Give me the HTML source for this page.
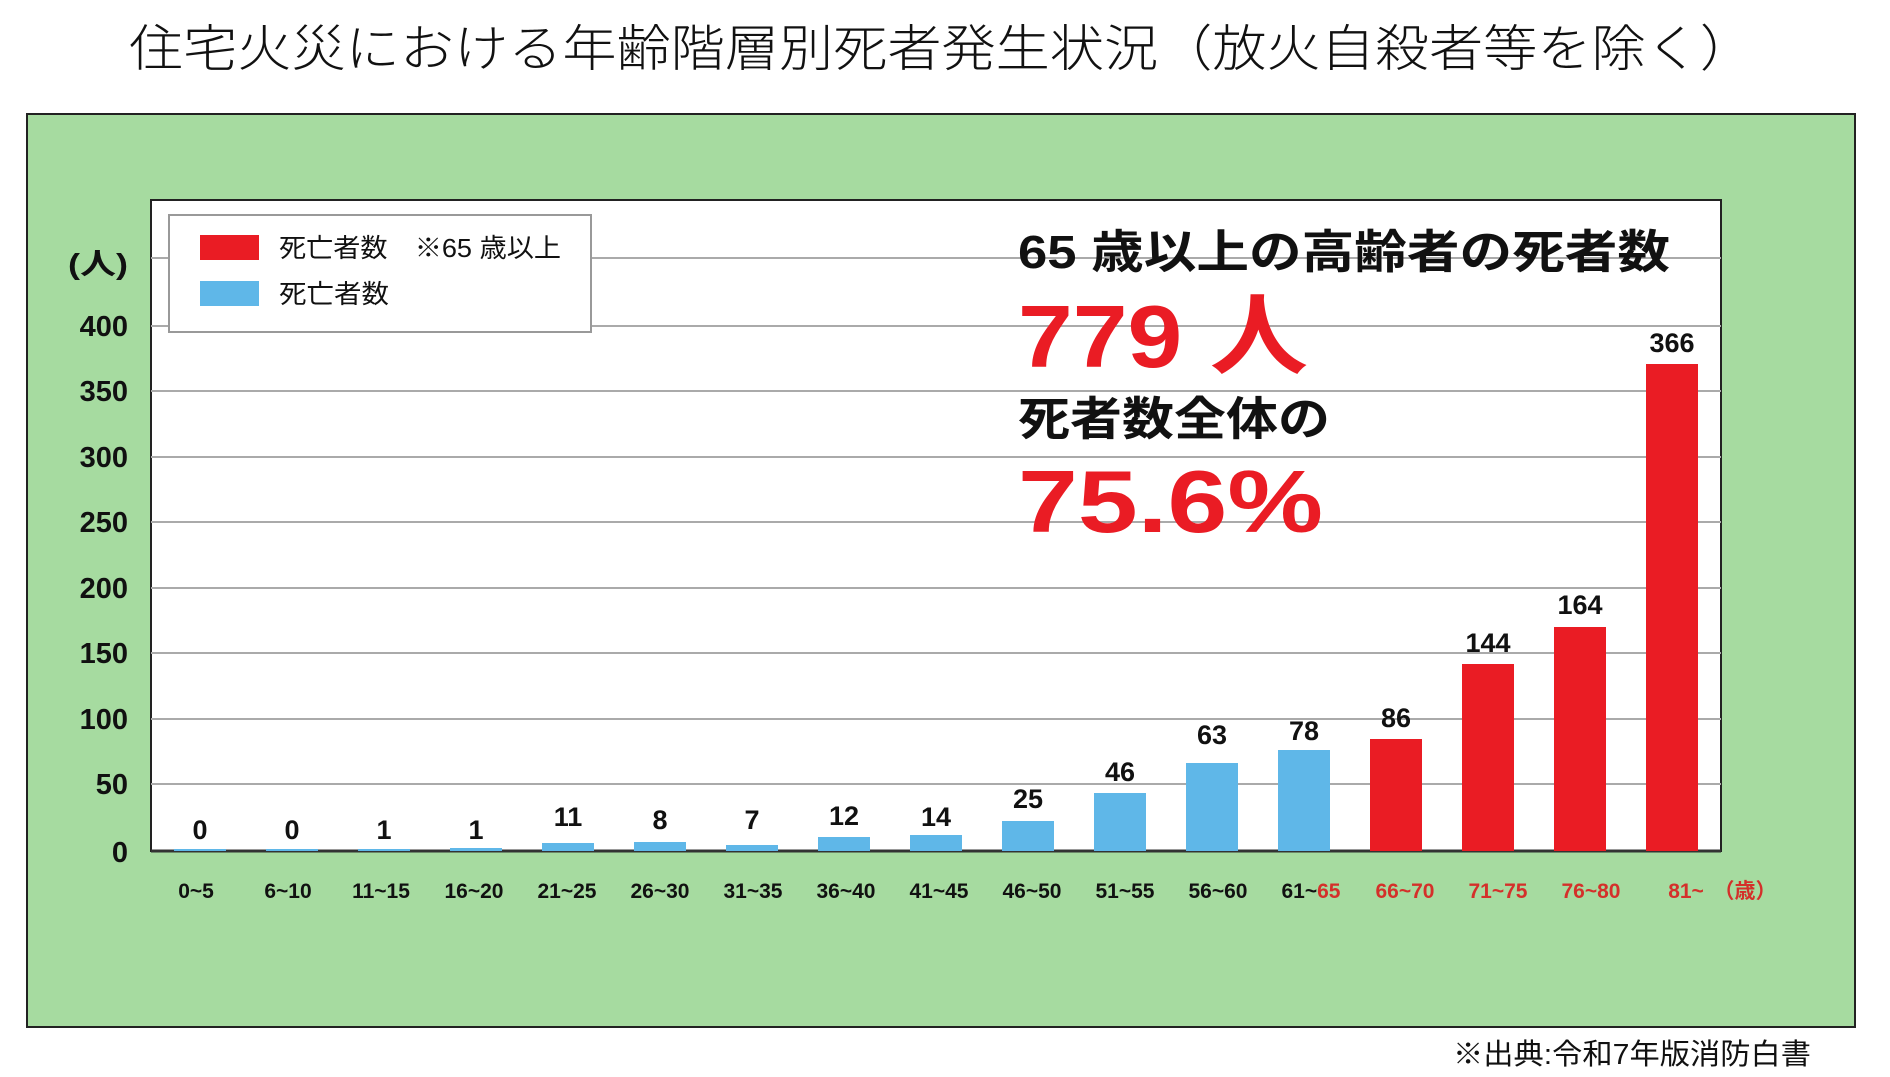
<!DOCTYPE html>
<html><head><meta charset="utf-8"><style>
html,body{margin:0;padding:0;background:#fff;}
svg{display:block;}
</style></head><body>
<svg width="1890" height="1077" viewBox="0 0 1890 1077" xmlns="http://www.w3.org/2000/svg">
<text x="129" y="66" font-family="'Liberation Sans','Noto Sans CJK JP',sans-serif" font-size="50" font-weight="300" fill="#111" textLength="1625" lengthAdjust="spacingAndGlyphs">住宅火災における年齢階層別死者発生状況（放火自殺者等を除く）</text>
<rect x="27" y="114" width="1828" height="913" fill="#a6dba0" stroke="#222" stroke-width="2"/>
<rect x="151" y="200" width="1570" height="651" fill="#fff" stroke="#222" stroke-width="2"/>
<g stroke="#aaa" stroke-width="2">
<line x1="151" y1="258" x2="1721" y2="258"/>
<line x1="151" y1="326" x2="1721" y2="326"/>
<line x1="151" y1="391" x2="1721" y2="391"/>
<line x1="151" y1="457" x2="1721" y2="457"/>
<line x1="151" y1="522" x2="1721" y2="522"/>
<line x1="151" y1="588" x2="1721" y2="588"/>
<line x1="151" y1="653" x2="1721" y2="653"/>
<line x1="151" y1="719" x2="1721" y2="719"/>
<line x1="151" y1="784" x2="1721" y2="784"/>
</g>
<line x1="151" y1="851" x2="1721" y2="851" stroke="#333" stroke-width="3"/>
<g font-family="'Liberation Sans','Noto Sans CJK JP',sans-serif" font-weight="bold" font-size="29" fill="#111" text-anchor="end">
<text x="128" y="274" textLength="60" lengthAdjust="spacingAndGlyphs">(人)</text>
<text x="128" y="336">400</text>
<text x="128" y="401">350</text>
<text x="128" y="467">300</text>
<text x="128" y="532">250</text>
<text x="128" y="598">200</text>
<text x="128" y="663">150</text>
<text x="128" y="729">100</text>
<text x="128" y="794">50</text>
<text x="128" y="862">0</text>
</g>
<rect x="169" y="215" width="422" height="117" fill="#fff" stroke="#999" stroke-width="2"/>
<rect x="200" y="235" width="59" height="25" fill="#ea1c24"/>
<rect x="200" y="281" width="59" height="25" fill="#5fb7e8"/>
<g font-family="'Liberation Sans','Noto Sans CJK JP',sans-serif" font-size="26" fill="#111">
<text x="279" y="257" textLength="282" lengthAdjust="spacingAndGlyphs">死亡者数　※65 歳以上</text>
<text x="279" y="303" textLength="110" lengthAdjust="spacingAndGlyphs">死亡者数</text>
</g>
<g font-family="'Liberation Sans','Noto Sans CJK JP',sans-serif" font-weight="bold">
<text x="1018" y="268" font-size="46" fill="#111" textLength="652" lengthAdjust="spacingAndGlyphs">65 歳以上の高齢者の死者数</text>
<text x="1018" y="367" font-size="88" fill="#ea1c24" textLength="290" lengthAdjust="spacingAndGlyphs">779 人</text>
<text x="1018" y="435" font-size="46" fill="#111" textLength="312" lengthAdjust="spacingAndGlyphs">死者数全体の</text>
<text x="1018" y="532" font-size="88" fill="#ea1c24" textLength="305" lengthAdjust="spacingAndGlyphs">75.6%</text>
</g>
<g>
<rect x="174" y="849" width="52" height="2" fill="#5fb7e8"/>
<rect x="266" y="849" width="52" height="2" fill="#5fb7e8"/>
<rect x="358" y="849" width="52" height="2" fill="#5fb7e8"/>
<rect x="450" y="848" width="52" height="3" fill="#5fb7e8"/>
<rect x="542" y="843" width="52" height="8" fill="#5fb7e8"/>
<rect x="634" y="842" width="52" height="9" fill="#5fb7e8"/>
<rect x="726" y="845" width="52" height="6" fill="#5fb7e8"/>
<rect x="818" y="837" width="52" height="14" fill="#5fb7e8"/>
<rect x="910" y="835" width="52" height="16" fill="#5fb7e8"/>
<rect x="1002" y="821" width="52" height="30" fill="#5fb7e8"/>
<rect x="1094" y="793" width="52" height="58" fill="#5fb7e8"/>
<rect x="1186" y="763" width="52" height="88" fill="#5fb7e8"/>
<rect x="1278" y="750" width="52" height="101" fill="#5fb7e8"/>
<rect x="1370" y="739" width="52" height="112" fill="#ea1c24"/>
<rect x="1462" y="664" width="52" height="187" fill="#ea1c24"/>
<rect x="1554" y="627" width="52" height="224" fill="#ea1c24"/>
<rect x="1646" y="364" width="52" height="487" fill="#ea1c24"/>
</g>
<g font-family="'Liberation Sans',sans-serif" font-weight="bold" font-size="27" fill="#111" text-anchor="middle">
<text x="200" y="839">0</text>
<text x="292" y="839">0</text>
<text x="384" y="839">1</text>
<text x="476" y="839">1</text>
<text x="568" y="826">11</text>
<text x="660" y="829">8</text>
<text x="752" y="829">7</text>
<text x="844" y="825">12</text>
<text x="936" y="826">14</text>
<text x="1028" y="808">25</text>
<text x="1120" y="781">46</text>
<text x="1212" y="744">63</text>
<text x="1304" y="740">78</text>
<text x="1396" y="727">86</text>
<text x="1488" y="652">144</text>
<text x="1580" y="614">164</text>
<text x="1672" y="352">366</text>
</g>
<g font-family="'Liberation Sans','Noto Sans CJK JP',sans-serif" font-weight="bold" font-size="21" fill="#111" text-anchor="middle">
<text x="196" y="898">0~5</text>
<text x="288" y="898">6~10</text>
<text x="381" y="898">11~15</text>
<text x="474" y="898">16~20</text>
<text x="567" y="898">21~25</text>
<text x="660" y="898">26~30</text>
<text x="753" y="898">31~35</text>
<text x="846" y="898">36~40</text>
<text x="939" y="898">41~45</text>
<text x="1032" y="898">46~50</text>
<text x="1125" y="898">51~55</text>
<text x="1218" y="898">56~60</text>
<text x="1311" y="898">61~<tspan fill="#d4302a">65</tspan></text>
<g fill="#d4302a">
<text x="1405" y="898">66~70</text>
<text x="1498" y="898">71~75</text>
<text x="1591" y="898">76~80</text>
<text x="1686" y="898">81~</text>
<text x="1745" y="898">（歳）</text>
</g>
</g>
<text x="1453" y="1064" font-family="'Liberation Sans','Noto Sans CJK JP',sans-serif" font-size="29" fill="#111" textLength="358" lengthAdjust="spacingAndGlyphs">※出典:令和7年版消防白書</text>
</svg>
</body></html>
